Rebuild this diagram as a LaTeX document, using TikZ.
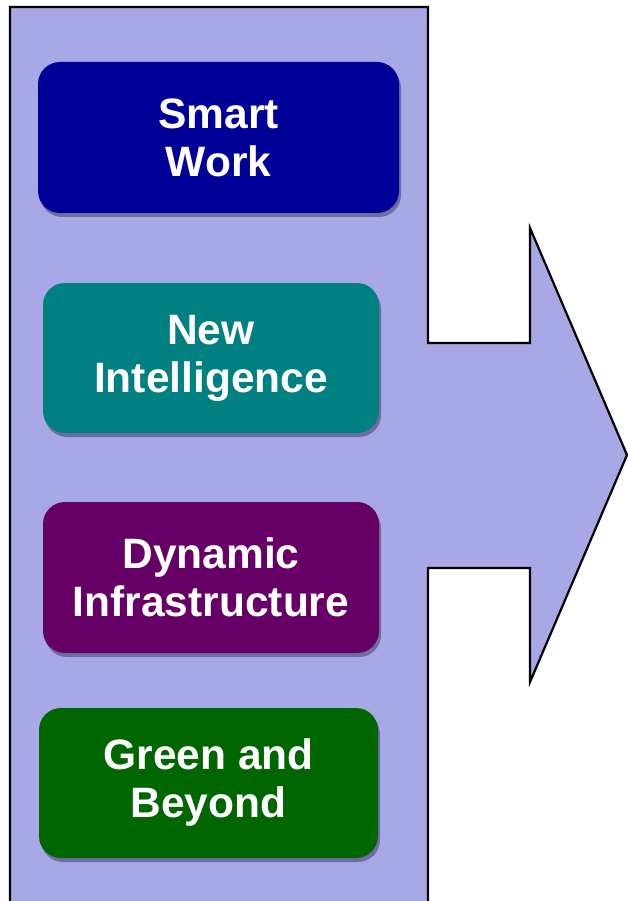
\documentclass[tikz,border=0pt]{standalone}
\usepackage{fontspec}
\setmainfont{Liberation Sans}
\usetikzlibrary{shadows}
\definecolor{bgfill}{HTML}{A8A8E6}
\definecolor{shadowc}{HTML}{6E6EA2}
\definecolor{cnavy}{HTML}{000099}
\definecolor{cteal}{HTML}{008080}
\definecolor{cplum}{HTML}{660066}
\definecolor{cgreen}{HTML}{006600}
\tikzset{
  itembox/.style={rectangle, rounded corners=22pt, draw=none, text=white,
    align=center, font=\fontsize{42.5}{48}\selectfont\bfseries,
    drop shadow={shadow xshift=2pt, shadow yshift=-4pt, fill=shadowc, opacity=1},
    inner sep=0pt},
  outline/.style={draw=black, line width=2.2pt, fill=bgfill, line join=miter}
}
\begin{document}
\begin{tikzpicture}[x=1pt,y=-1pt]
\useasboundingbox (0,0) rectangle (627,901);
\draw[outline] (10,7) -- (428,7) -- (428,343) -- (530,343) -- (530,228)
  -- (627,455) -- (530,682) -- (530,568) -- (428,568) -- (428,910)
  -- (10,910) -- cycle;
\node[itembox, fill=cnavy, minimum width=361pt, minimum height=151pt] (sw) at (218.5,137.5) {Smart\\Work};
\node[itembox, fill=cteal, minimum width=336pt, minimum height=150pt] (ni) at (211,358) {New\\Intelligence};
\node[itembox, fill=cplum, minimum width=336pt, minimum height=151pt] (di) at (211,577.5) {Dynamic\\Infrastructure};
\node[itembox, fill=cgreen, minimum width=339pt, minimum height=150pt] (gb) at (208.5,783) {Green and\\Beyond};
\end{tikzpicture}
\end{document}
